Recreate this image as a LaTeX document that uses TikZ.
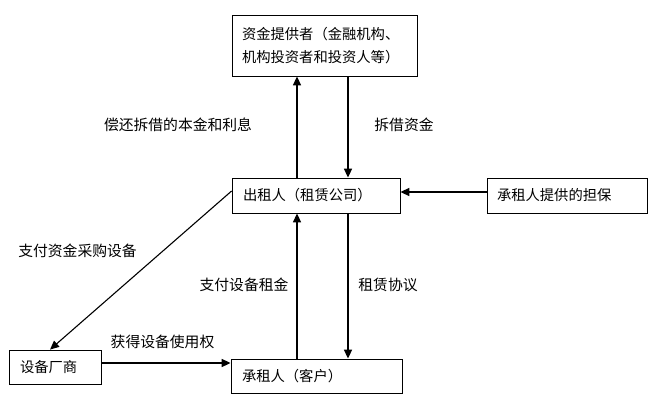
\documentclass[tikz,border=0pt]{standalone}
\usepackage{fontspec}
\setmainfont{Noto Sans CJK SC}
\usetikzlibrary{arrows.meta,calc}
\begin{document}
\begin{tikzpicture}[x=1pt,y=-1pt,
  box/.style={draw,line width=0.8pt,inner xsep=0pt,inner ysep=0pt,font=\fontsize{14.3pt}{23pt}\selectfont},
  arr/.style={line width=1.6pt,-{Triangle[length=9pt,width=8pt]}},
  thin arr/.style={line width=1.1pt,-{Triangle[length=9pt,width=8pt]}},
  lbl/.style={font=\fontsize{14.8pt}{16pt}\selectfont,inner sep=0pt}]
\useasboundingbox (0,0) rectangle (655,413);
\fill[white] (0,0) rectangle (655,413);
\node[box,minimum width=185pt,minimum height=61pt,text width=165pt,align=left] (top) at (324.5,45.5) {资金提供者（金融机构、\\机构投资者和投资人等）};
\node[box,minimum width=168pt,minimum height=35pt,text width=146pt,align=left] (mid) at (316,195.5) {出租人（租赁公司）};
\node[box,minimum width=160pt,minimum height=35pt,text width=140pt,align=left] (grt) at (567,195.5) {承租人提供的担保};
\node[box,minimum width=171pt,minimum height=34pt,text width=149pt,align=left] (cz) at (316.5,376) {承租人（客户）};
\node[box,minimum width=92pt,minimum height=34pt,text width=70pt,align=left] (sb) at (55,367) {设备厂商};
% top <-> mid
\draw[arr] ([xshift=-19pt]mid.north) -- ([xshift=-19pt]mid.north |- top.south);
\draw[arr] ([xshift=32pt]mid.north |- top.south) -- ([xshift=32pt]mid.north);
% mid <-> cz
\draw[arr] ([xshift=-19.5pt]cz.north) -- ([xshift=-19.5pt]cz.north |- mid.south);
\draw[arr] ([xshift=31.5pt]cz.north |- mid.south) -- ([xshift=31.5pt]cz.north);
% guarantee
\draw[arr] ([yshift=3.5pt]grt.west) -- ([yshift=3.5pt]grt.west -| mid.east);
% diagonal
\draw[thin arr] ([yshift=4.5pt]mid.west) -- ([xshift=-5pt]sb.north);
% sb -> cz
\draw[arr] ([yshift=4pt]sb.east) -- ([yshift=4pt]sb.east -| cz.west);
% labels
\node[lbl] (l1) at (178,125) {偿还拆借的本金和利息};
\node[lbl] (l2) at (404,125) {拆借资金};
\node[lbl] (l3) at (77.5,251) {支付资金采购设备};
\node[lbl] (l4) at (244,285) {支付设备租金};
\node[lbl] (l5) at (388,285) {租赁协议};
\node[lbl] (l6) at (162.5,342) {获得设备使用权};
\end{tikzpicture}
\end{document}
